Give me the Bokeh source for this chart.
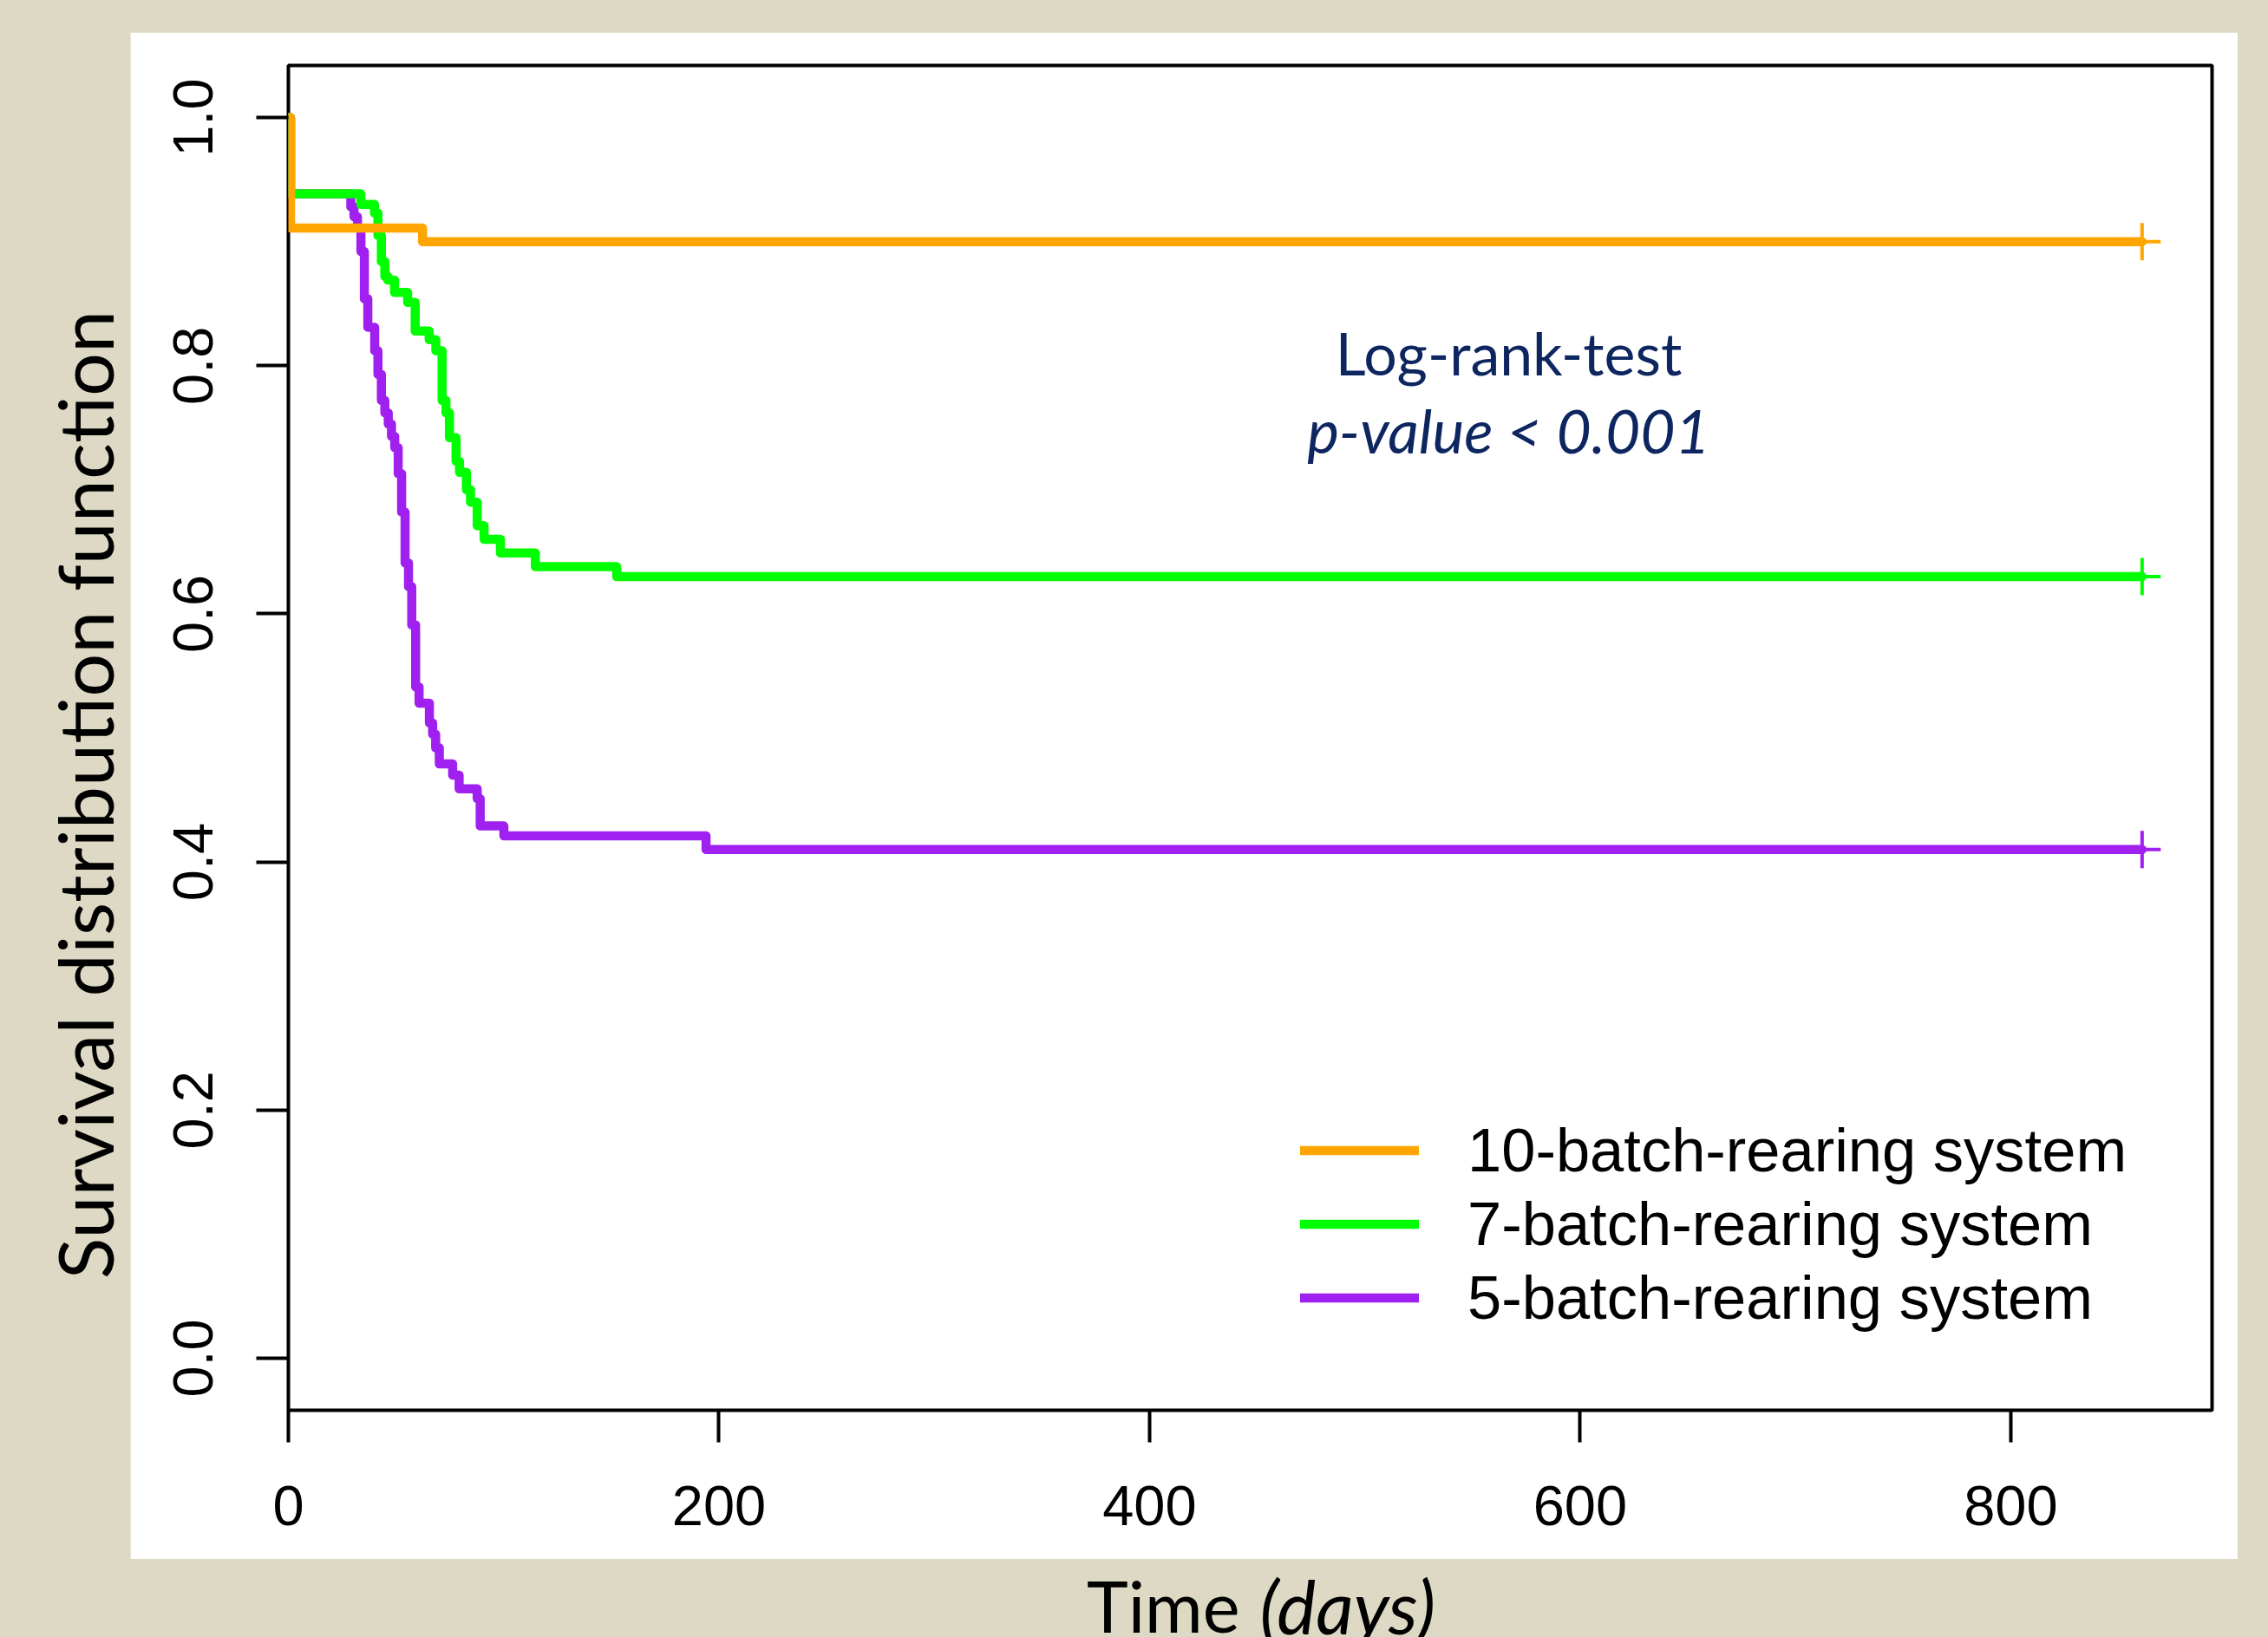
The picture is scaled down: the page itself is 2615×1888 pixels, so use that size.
from bokeh.plotting import figure
from bokeh.models import (Range1d, FixedTicker, NumeralTickFormatter, Label,
                          Legend, LegendItem)
from bokeh.layouts import column, row
from bokeh.core.properties import value
from bokeh.embed import file_html
from bokeh.resources import INLINE
import math

# ---------------- data ----------------
series_names = ["10-batch-rearing system", "7-batch-rearing system", "5-batch-rearing system"]

orange_t = [0, 1, 62.3, 861]
orange_s = [1.0, 0.911, 0.900, 0.900]

green_t = [0, 1, 33.7, 40.0, 41.6, 43.2, 44.8, 46.2, 49.3, 55.4, 58.9, 65.4, 68.5,
           71.4, 73.2, 74.8, 77.9, 79.5, 82.7, 84.6, 87.7, 90.9, 98.5, 114.7, 152.5, 861]
green_s = [1.0, 0.9385, 0.930, 0.923, 0.905, 0.884, 0.872, 0.869, 0.859, 0.851, 0.828, 0.821, 0.812,
           0.772, 0.762, 0.742, 0.723, 0.714, 0.700, 0.690, 0.671, 0.660, 0.649, 0.638, 0.630, 0.630]

purple_t = [0, 1, 29.0, 30.5, 32.1, 33.7, 35.3, 36.9, 40.1, 41.6, 43.2, 44.8, 46.4, 47.9,
            49.4, 51.0, 52.6, 54.2, 55.8, 57.3, 59.1, 60.7, 65.5, 67.0, 68.4, 70.1, 76.3,
            79.3, 87.7, 89.1, 100.1, 194.0, 861]
purple_s = [1.0, 0.9385, 0.928, 0.920, 0.911, 0.892, 0.854, 0.831, 0.812, 0.793, 0.772, 0.762, 0.753, 0.743,
            0.734, 0.713, 0.682, 0.641, 0.622, 0.591, 0.541, 0.528, 0.512, 0.503, 0.492, 0.479, 0.470,
            0.459, 0.451, 0.429, 0.421, 0.410, 0.410]

x_ticks = [0, 200, 400, 600, 800]
y_ticks = [0.0, 0.2, 0.4, 0.6, 0.8, 1.0]

colors = ["#FFA500", "#00FF00", "#A020F0"]

y_title = "Survival distribution function"
x_title_main = "Time"
x_title_unit = "(days)"
test_name = "Log-rank-test"
test_result = "p-value < 0.001"

BEIGE = "#DDD9C4"
NAVY = "#0E2660"
BG = {"background-color": BEIGE}


def strip(w, h):
    f = figure(width=w, height=h, output_backend="svg", toolbar_location=None, title=None,
               x_range=Range1d(0, w), y_range=Range1d(h, 0),
               x_axis_type=None, y_axis_type=None, min_border=0,
               background_fill_color=BEIGE, border_fill_color=BEIGE, styles=BG)
    f.outline_line_color = None
    return f


# ---------------- main plot (white slide panel) ----------------
p = figure(width=2430, height=1761, output_backend="svg", toolbar_location=None, title=None,
           x_range=Range1d(0, 893.5), y_range=Range1d(-0.042, 1.042),
           min_border_left=182, min_border_right=30, min_border_top=38, min_border_bottom=172,
           background_fill_color="white", border_fill_color="white")

p.xgrid.visible = False
p.ygrid.visible = False
p.outline_line_color = "black"
p.outline_line_width = 4
p.outline_line_alpha = 1.0

for ax in (p.xaxis[0], p.yaxis[0]):
    ax.axis_line_color = None
    ax.major_tick_out = 37
    ax.major_tick_in = 0
    ax.major_tick_line_width = 4
    ax.major_tick_line_color = "black"
    ax.minor_tick_line_color = None
    ax.major_label_text_font = "Liberation Sans"
    ax.major_label_text_font_size = "65px"
    ax.major_label_text_color = "black"
    ax.major_label_standoff = 50

p.xaxis.ticker = FixedTicker(ticks=x_ticks)
p.yaxis.ticker = FixedTicker(ticks=y_ticks)
p.yaxis.formatter = NumeralTickFormatter(format="0.0")
p.yaxis.major_label_orientation = "vertical"

# curves (purple first, orange on top)
common = dict(mode="after", line_width=10.5, line_join="round", line_cap="round")
r_purple = p.step(purple_t, purple_s, line_color=colors[2], **common)
r_green = p.step(green_t, green_s, line_color=colors[1], **common)
r_orange = p.step(orange_t, orange_s, line_color=colors[0], **common)

# censoring marks at the last time of each curve
for t, s, c in ((purple_t, purple_s, colors[2]), (green_t, green_s, colors[1]),
                (orange_t, orange_s, colors[0])):
    p.scatter([t[-1]], [s[-1]], marker="cross", size=43, line_width=4, line_color=c)

legend = Legend(items=[LegendItem(label=series_names[0], renderers=[r_orange]),
                       LegendItem(label=series_names[1], renderers=[r_green]),
                       LegendItem(label=series_names[2], renderers=[r_purple])],
                location=(1167, 87.5), orientation="vertical",
                padding=0, margin=0, spacing=0,
                glyph_width=137, glyph_height=85, label_height=85, label_standoff=56,
                label_text_font="Liberation Sans", label_text_font_size="70.5px",
                label_text_color="black", label_text_baseline="middle",
                border_line_alpha=0, background_fill_alpha=0)
p.add_layout(legend)

p.add_layout(Label(x=566.8, y=0.8107, text=test_name, text_font="Lato",
                   text_font_size="68px", text_color=NAVY, text_align="center",
                   text_baseline="alphabetic"))
p.add_layout(Label(x=566.8, y=0.7480, text=test_result, text_font="Lato",
                   text_font_size="69.5px", text_font_style="italic", text_color=NAVY,
                   text_align="center", text_baseline="alphabetic"))

# ---------------- beige slide surroundings ----------------
top = strip(2615, 37)

left = strip(150, 1761)
left.text(x=[96], y=[955], text=[y_title], angle=math.pi / 2,
          text_font=value("Lato"), text_font_size=value("88px"), text_color="black",
          text_align="center", text_baseline="alphabetic")

right = strip(35, 1761)

bottom = strip(2615, 90)
bottom.text(x=[1429], y=[53], text=[x_title_main], text_font=value("Lato"),
            text_font_size=value("81px"), text_color="black",
            text_align="right", text_baseline="alphabetic")
bottom.text(x=[1452], y=[53], text=[x_title_unit], text_font=value("Lato"),
            text_font_size=value("85px"), text_font_style="italic", text_color="black",
            text_align="left", text_baseline="alphabetic")

layout = column(top, row(left, p, right, spacing=0, styles=BG), bottom, spacing=0, styles=BG)

open("out.html", "w").write(file_html(layout, INLINE))
